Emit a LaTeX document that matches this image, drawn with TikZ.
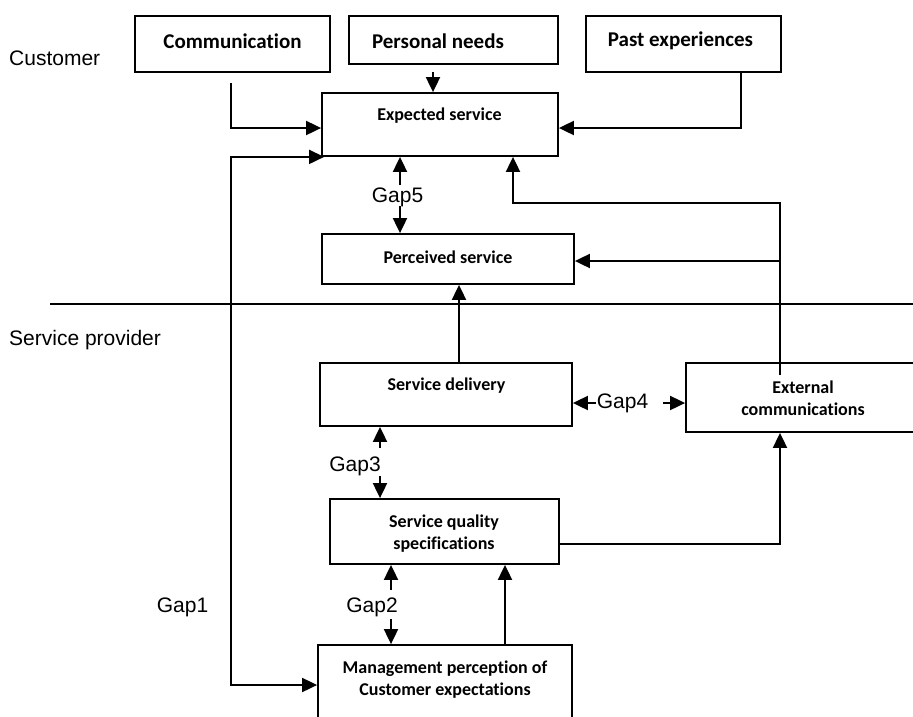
\documentclass[tikz,border=0pt]{standalone}
\usepackage{fontspec}
\setmainfont{Liberation Sans}
\newfontfamily\boxfont[RawFeature=-liga]{Carlito}
\usetikzlibrary{arrows.meta}
\begin{document}
\begin{tikzpicture}[x=1pt,y=-1pt,
  box/.style={draw, line width=1.8pt, rectangle, inner sep=0pt},
  bt/.style={font=\boxfont\bfseries\fontsize{18}{22}\selectfont, align=center, inner sep=0pt},
  btbig/.style={font=\boxfont\bfseries\fontsize{21}{25}\selectfont, inner sep=0pt},
  lbl/.style={font=\fontsize{21}{25}\selectfont, inner sep=0pt},
  conn/.style={line width=1.9pt, -{Triangle[length=15pt,width=14pt]}},
  dconn/.style={line width=1.9pt, {Triangle[length=15pt,width=14pt]}-{Triangle[length=15pt,width=14pt]}},
  plainline/.style={line width=1.5pt},
]
\useasboundingbox (0,0) rectangle (913,716);
\clip (0,0) rectangle (913,716);

% boxes
\node[box, minimum width=195pt, minimum height=56pt] (comm) at (232.5,44) {};
\node[box, minimum width=209pt, minimum height=48pt] (pers) at (453.5,40) {};
\node[box, minimum width=195pt, minimum height=56pt] (past) at (683.5,44) {};
\node[box, minimum width=236pt, minimum height=63pt] (exp) at (440,124.5) {};
\node[box, minimum width=252pt, minimum height=50pt] (perc) at (448,259) {};
\node[box, minimum width=252pt, minimum height=63pt] (deliv) at (446,394.5) {};
\node[box, minimum width=234pt, minimum height=69pt] (ext) at (803,397.5) {};
\node[box, minimum width=229pt, minimum height=65pt] (sqs) at (444.5,531.5) {};
\node[box, minimum width=254pt, minimum height=100pt] (mgmt) at (445,695) {};

% box texts
\node[btbig] (commT) at (232.5,41) {Communication};
\node[btbig] (persT) at (438,41) {Personal needs};
\node[btbig] (pastT) at (680.5,41) {Past experiences};
\node[bt] (expT) at (439.5,116) {Expected service};
\node[bt] (percT) at (448,257) {Perceived service};
\node[bt] (delivT) at (446.5,386) {Service delivery};
\node[bt] (extT) at (803,398.5) {External\\communications};
\node[bt] (sqsT) at (444,534) {Service quality\\specifications};
\node[bt] (mgmtT) at (445,679.5) {Management perception of\\Customer expectations};

% labels
\node[lbl, anchor=west] (cust) at (9,58) {Customer};
\node[lbl, anchor=west] (prov) at (9,340) {Service provider};
\node[lbl] (gap5) at (397.5,197) {Gap5};
\node[lbl] (gap4) at (622.5,403) {Gap4};
\node[lbl] (gap3) at (355,466) {Gap3};
\node[lbl] (gap2) at (372,607) {Gap2};
\node[lbl] (gap1) at (182.5,607) {Gap1};

% divider
\coordinate (dl) at (50,304);
\coordinate (dr) at (913,304);
\draw[plainline] (dl) -- (dr);

% coordinates
\coordinate (c1) at (231,83);
\coordinate (c2) at (433,72);
\coordinate (c3) at (741,72);
\coordinate (g1x) at (231,400);
\coordinate (g5u) at (400,185);
\coordinate (g5d) at (400,206);
\coordinate (dp) at (459,330);
\coordinate (e0) at (780,375);
\coordinate (ex) at (513,203);
\coordinate (pc) at (780,261);
\coordinate (g4l) at (596,403);
\coordinate (g4r) at (663,403);
\coordinate (g3u) at (380,448);
\coordinate (g3d) at (380,476);
\coordinate (g2u) at (391,590);
\coordinate (g2d) at (391,619);
\coordinate (mx) at (505,600);

% connectors
\draw[conn] (c1) |- ([yshift=-3.5pt]exp.west);
\draw[conn] (c2) -- (c2 |- exp.north);
\draw[conn] (c3) |- ([yshift=-3.5pt]exp.east);
\draw[dconn] ([xshift=3pt]exp.south west) -| (g1x) |- ([yshift=10pt]mgmt.west);
\draw[conn] (g5u) -- (g5u |- exp.south);
\draw[conn] (g5d) -- (g5d |- perc.north);
\draw[conn] (deliv.north -| dp) -- (perc.south -| dp);
\draw[conn] (e0) |- (ex) -- (ex |- exp.south);
\draw[conn] (pc) -- (pc -| perc.east);
\draw[conn] ([yshift=-12.5pt]sqs.east) -| (ext.south -| e0);
\draw[conn] (g4l) -- (g4l -| deliv.east);
\draw[conn] (g4r) -- (g4r -| ext.west);
\draw[conn] (g3u) -- (g3u |- deliv.south);
\draw[conn] (g3d) -- (g3d |- sqs.north);
\draw[conn] (g2u) -- (g2u |- sqs.south);
\draw[conn] (g2d) -- (g2d |- mgmt.north);
\draw[conn] (mgmt.north -| mx) -- (sqs.south -| mx);
\end{tikzpicture}
\end{document}
